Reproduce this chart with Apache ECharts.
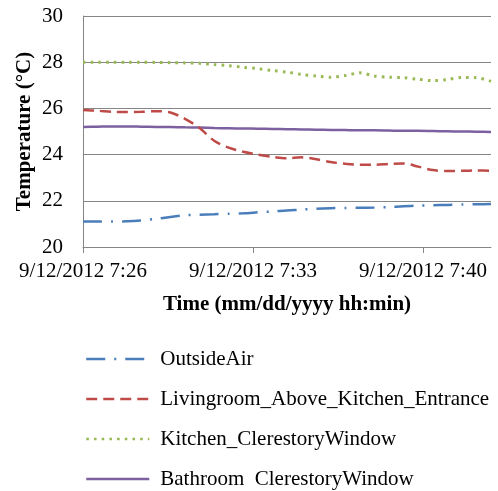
<!DOCTYPE html>
<html>
<head>
<meta charset="utf-8">
<script src="https://cdn.jsdelivr.net/npm/echarts@6/dist/echarts.min.js"></script>
<style>
html,body{margin:0;padding:0;background:#fff;}
#chart{width:498px;height:491px;}
</style>
</head>
<body>
<div id="chart"></div>
<script>
// Sample times (hh:mm:ss on 9/12/2012)
const times = ["7:26:00","7:26:36","7:27:12","7:27:48","7:28:24","7:29:00","7:29:36","7:30:12","7:30:48","7:31:24",
  "7:32:00","7:32:36","7:33:12","7:33:48","7:34:24","7:35:00","7:35:36","7:36:12","7:36:48","7:37:24",
  "7:38:00","7:38:36","7:39:12","7:39:48","7:40:24","7:41:00","7:41:36","7:42:12","7:42:48"];
const seriesNames = ["OutsideAir","Livingroom_Above_Kitchen_Entrance","Kitchen_ClerestoryWindow","Bathroom_ClerestoryWindow"];
const legendLabels = ["OutsideAir","Livingroom_Above_Kitchen_Entrance","Kitchen_ClerestoryWindow","Bathroom  ClerestoryWindow"];
const outsideAir = [21.10,21.10,21.10,21.11,21.15,21.22,21.30,21.37,21.40,21.42,21.44,21.46,21.50,21.54,21.58,21.62,21.66,21.68,21.69,21.70,21.71,21.73,21.76,21.79,21.81,21.82,21.84,21.85,21.86];
const livingroom = [25.93,25.90,25.85,25.84,25.85,25.88,25.82,25.55,25.15,24.60,24.30,24.12,24.00,23.90,23.84,23.88,23.80,23.68,23.60,23.56,23.56,23.60,23.62,23.48,23.33,23.29,23.30,23.31,23.30];
const kitchen = [28.00,28.00,28.00,28.00,28.00,27.99,27.98,27.97,27.95,27.90,27.85,27.78,27.72,27.64,27.57,27.47,27.40,27.35,27.42,27.54,27.40,27.35,27.33,27.26,27.20,27.25,27.34,27.33,27.17];
const bathroom = [25.20,25.21,25.22,25.22,25.21,25.20,25.19,25.18,25.17,25.15,25.14,25.13,25.12,25.11,25.10,25.09,25.08,25.07,25.06,25.05,25.05,25.04,25.03,25.03,25.02,25.01,25.00,24.99,24.98];
const yTicks = {min:20, max:30, interval:2};
const xTickMinutes = 7; // label every 7 minutes
const datePrefix = "9/12/2012 ";

function toMin(t){ const p=t.split(":").map(Number); return (p[0]*60+p[1]+p[2]/60) - (7*60+26); }
const xs = times.map(toMin);
const xMax = xs[xs.length-1];
function pairs(arr){ return arr.map((v,i)=>[xs[i],v]); }

const colors = ["#4A7EBB","#BE4B48","#98B954","#7D60A0"];
const dashes = [[19,9,2,9],[11,6],[2.6,5.1],'solid'];
const datas = [outsideAir, livingroom, kitchen, bathroom];
const font = "'Liberation Serif','Times New Roman',serif";

const chart = echarts.init(document.getElementById('chart'), null, {renderer:'canvas'});
chart.setOption({
  animation:false,
  backgroundColor:'#fff',
  textStyle:{fontFamily:font},
  grid:{left:83, right:7, top:16, bottom:244, containLabel:false},
  xAxis:{
    type:'value', min:0, max:xMax, interval:xTickMinutes,
    name:'Time (mm/dd/yyyy hh:min)', nameLocation:'middle', nameGap:47, nameMoveOverlap:false,
    nameTextStyle:{fontFamily:font, fontWeight:'bold', fontSize:21, color:'#000'},
    axisLine:{show:true, lineStyle:{color:'#868686', width:1}},
    axisTick:{show:true, length:6, lineStyle:{color:'#868686'}},
    splitLine:{show:false},
    axisLabel:{showMaxLabel:false, margin:14, fontFamily:font, fontSize:21, color:'#000',
      formatter:function(v){ const m = 26+Math.round(v); return datePrefix + '7:' + String(m).padStart(2,'0'); }}
  },
  yAxis:{
    type:'value', min:yTicks.min, max:yTicks.max, interval:yTicks.interval,
    name:'Temperature (°C)', nameLocation:'middle', nameGap:48, nameMoveOverlap:false,
    nameTextStyle:{fontFamily:font, fontWeight:'bold', fontSize:21, color:'#000'},
    axisLine:{show:true, lineStyle:{color:'#868686', width:1}},
    axisTick:{show:false},
    splitLine:{show:true, lineStyle:{color:'#868686', width:1}},
    axisLabel:{margin:20, fontFamily:font, fontSize:21, color:'#000'}
  },
  legend:{
    orient:'vertical', left:85, top:348, padding:0, itemGap:18, itemWidth:63, itemHeight:14,
    height:150,
    data:seriesNames,
    itemStyle:{opacity:0},
    lineStyle:{width:2.5},
    formatter:function(n){ return legendLabels[seriesNames.indexOf(n)]; },
    textStyle:{fontFamily:font, fontSize:21, color:'#000', padding:[0,0,0,6], lineHeight:22}
  },
  series: seriesNames.map((n,i)=>({
    name:n, type:'line', data:pairs(datas[i]), smooth:0.3, symbol:'none', showSymbol:false,
    lineStyle:{color:colors[i], width:(i===2?3:2.5), type:dashes[i]},
    itemStyle:{color:colors[i]},
    z: 4-i
  }))
});
</script>
</body>
</html>
